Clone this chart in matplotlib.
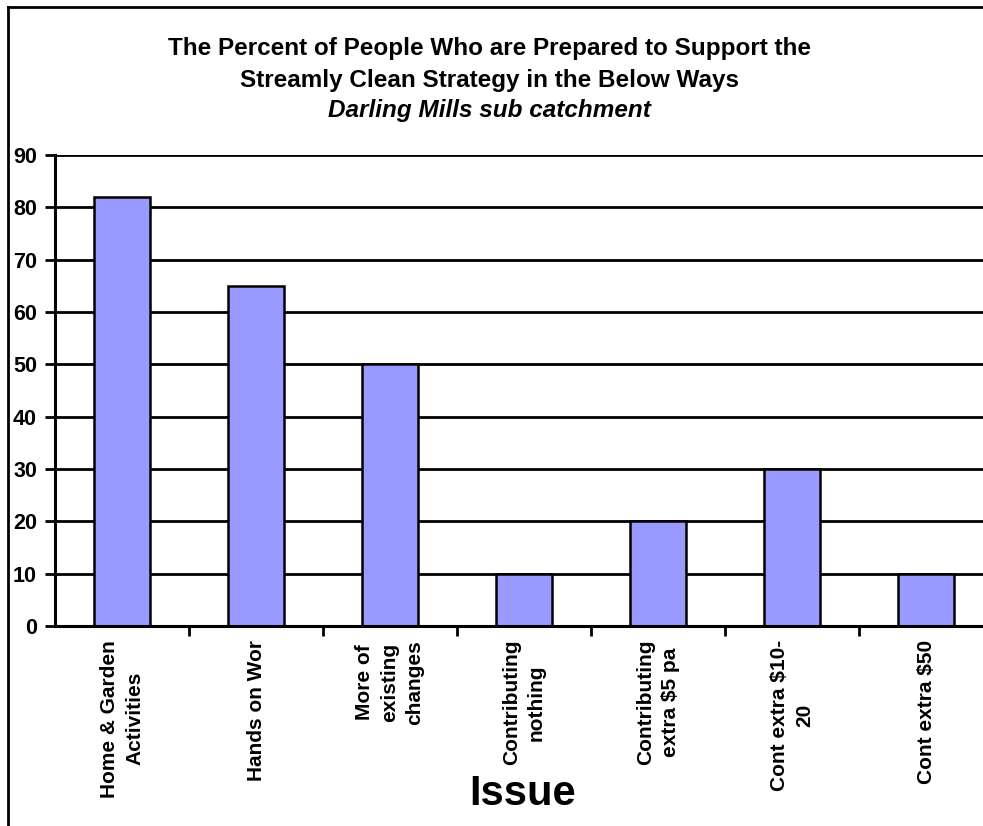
import matplotlib.pyplot as plt
from matplotlib.lines import Line2D

plt.rcParams['font.family'] = ['Liberation Sans', 'DejaVu Sans']

# categorias y porcentajes
issues = ["Home & Garden\nActivities", "Hands on Wor", "More of\nexisting\nchanges",
          "Contributing\nnothing", "Contributing\nextra $5 pa", "Cont extra $10-\n20",
          "Cont extra $50"]
percent = [82, 65, 50, 10, 20, 30, 10]
yticks = list(range(0, 91, 10))

fig = plt.figure(figsize=(9.83, 8.26), dpi=100)
ax = fig.add_axes([55/983, 200/826, 938/983, 471/826])

x = list(range(len(issues)))
ax.bar(x, percent, width=0.42, color='#9999FF', edgecolor='black', linewidth=1.8, zorder=3)

ax.set_xlim(-0.5, len(issues) - 0.5)
ax.set_ylim(0, 90)
ax.set_yticks(yticks)
ax.set_yticklabels([str(v) for v in yticks], fontsize=15.5, fontweight='bold')
ax.yaxis.grid(True, color='black', linewidth=2, zorder=0)
ax.tick_params(axis='y', length=7, width=2, pad=6)

ax.set_xticks(x)
ax.set_xticklabels(issues, rotation=90, fontsize=15, fontweight='bold',
                   ha='center', va='top', multialignment='center', linespacing=1.4)
ax.set_xticks([i + 0.5 for i in x[:-1]], minor=True)
ax.tick_params(axis='x', which='major', length=0, pad=10)
ax.tick_params(axis='x', which='minor', length=7, width=2)

for s in ['top', 'right']:
    ax.spines[s].set_visible(False)
for s in ['left', 'bottom']:
    ax.spines[s].set_linewidth(2.2)
ax.spines['bottom'].set_zorder(4)

fig.text(0.498, 1 - 48/826, "The Percent of People Who are Prepared to Support the",
         ha='center', va='center', fontsize=17.5, fontweight='bold')
fig.text(0.498, 1 - 80/826, "Streamly Clean Strategy in the Below Ways",
         ha='center', va='center', fontsize=17.5, fontweight='bold')
fig.text(0.498, 1 - 111/826, "Darling Mills sub catchment",
         ha='center', va='center', fontsize=17.5, fontweight='bold', style='italic')

fig.text(523/983, 1 - 794/826, "Issue", ha='center', va='center',
         fontsize=30, fontweight='bold')

# marco del grafico (solo se ve a la izquierda y arriba)
fig.add_artist(Line2D([8/983, 8/983], [0, 1 - 7/826], color='black', linewidth=2))
fig.add_artist(Line2D([8/983, 1], [1 - 7/826, 1 - 7/826], color='black', linewidth=2))

fig.savefig('out.png', dpi=100)
